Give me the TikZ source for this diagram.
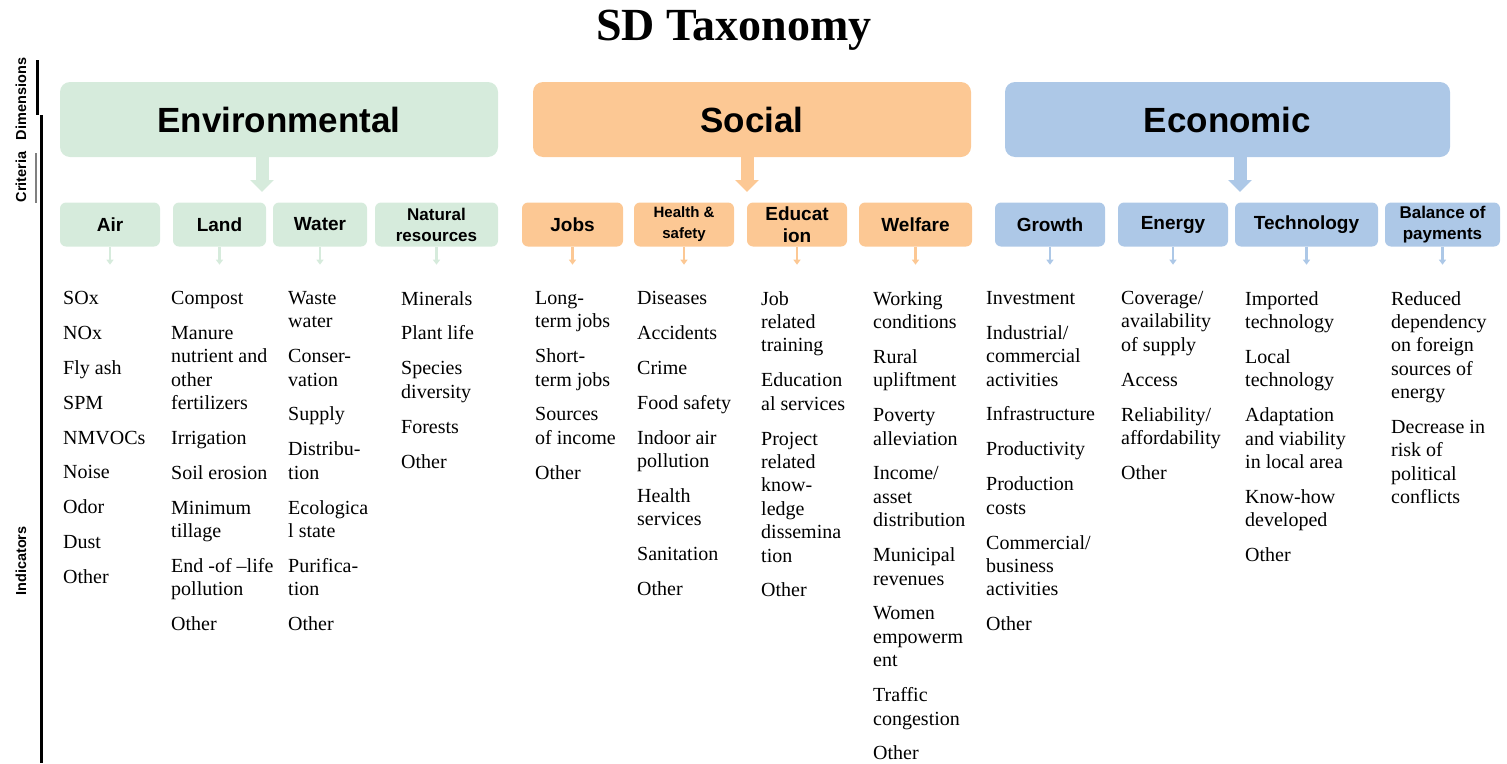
\documentclass[tikz,border=0pt]{standalone}
\usepackage{fontspec}
\setmainfont{Liberation Serif}
\setsansfont{Liberation Sans}
\usetikzlibrary{arrows.meta}

\definecolor{envgreen}{HTML}{D6EBDC}
\definecolor{socorange}{HTML}{FCC894}
\definecolor{ecoblue}{HTML}{ADC8E7}

% gap between two indicators
\newcommand{\nx}{\\[11.5pt]}

\begin{document}
\begin{tikzpicture}[x=1pt, y=-1pt,
  dimbox/.style={rounded corners=10pt, minimum height=75pt, inner sep=0pt,
    font=\sffamily\bfseries\fontsize{35}{40}\selectfont},
  critbox/.style={rounded corners=6pt, minimum height=44pt, inner sep=0pt, align=center,
    font=\sffamily\bfseries\fontsize{19}{22}\selectfont},
  ind/.style={anchor=north west, inner sep=0pt, align=left,
    font=\fontsize{20}{23.4}\selectfont},
  axislab/.style={rotate=90, font=\sffamily\bfseries\fontsize{14.5}{16}\selectfont},
  bigarrow/.style={-{Triangle[width=23pt,length=12pt]}, line width=13pt},
  smallarrow/.style={-{Triangle[width=7pt,length=5pt]}, line width=2.5pt},
]
\useasboundingbox (0,0) rectangle (1507,763);

\node[font=\bfseries\fontsize{46}{50}\selectfont] (title) at (734,30) {SD Taxonomy};

% left axis
\draw[line width=3pt] (37,60) -- (37,115);
\draw[line width=3pt] (41,115) -- (41,763);
\draw[line width=2pt, gray] (36,153) -- (36,203);
\node[axislab] (dimlab) at (21,99) {Dimensions};
\node[axislab] (critlab) at (21,177) {Criteria};
\node[axislab] (indlab) at (21,561) {Indicators};

% dimensions
\node[dimbox, fill=envgreen, minimum width=438pt] (env) at (279,119.5) {Environmental};
\node[dimbox, fill=socorange, minimum width=438pt] (soc) at (752,119.5) {Social};
\node[dimbox, fill=ecoblue, minimum width=445pt] (eco) at (1227.5,119.5) {Economic};

\coordinate (envtip) at (262,192);
\coordinate (soctip) at (747,192);
\coordinate (ecotip) at (1240,192);
\draw[bigarrow, envgreen] (env.south -| envtip) -- (envtip);
\draw[bigarrow, socorange] (soc.south -| soctip) -- (soctip);
\draw[bigarrow, ecoblue] (eco.south -| ecotip) -- (ecotip);

% criteria
\node[critbox, fill=envgreen, minimum width=100pt] (air) at (110,224.5) {Air};
\node[critbox, fill=envgreen, minimum width=93pt] (land) at (219.5,224.5) {Land};
\node[critbox, fill=envgreen, minimum width=94pt] (water) at (320,224.5) {Water};
\node[critbox, fill=envgreen, minimum width=123pt, font=\sffamily\bfseries\fontsize{17}{21}\selectfont] (natres) at (436.5,224.5) {Natural\\resources};

\node[critbox, fill=socorange, minimum width=101pt] (jobs) at (572.5,224.5) {Jobs};
\node[critbox, fill=socorange, minimum width=100pt, font=\sffamily\bfseries\fontsize{15}{21}\selectfont] (health) at (684,224.5) {Health \&\\safety};
\node[critbox, fill=socorange, minimum width=100pt] (educ) at (797,224.5) {Educat\\ion};
\node[critbox, fill=socorange, minimum width=113pt] (welfare) at (915.5,224.5) {Welfare};

\node[critbox, fill=ecoblue, minimum width=110pt] (growth) at (1050,224.5) {Growth};
\node[critbox, fill=ecoblue, minimum width=110pt] (energy) at (1173,224.5) {Energy};
\node[critbox, fill=ecoblue, minimum width=143pt] (tech) at (1306.5,224.5) {Technology};
\node[critbox, fill=ecoblue, minimum width=115pt, font=\sffamily\bfseries\fontsize{17}{21}\selectfont] (bop) at (1442.5,224.5) {Balance of\\payments};

\foreach \c in {air,land,water,natres}
  \draw[smallarrow, envgreen] (\c.south) -- ++(0,18);
\foreach \c in {jobs,health,educ,welfare}
  \draw[smallarrow, socorange] (\c.south) -- ++(0,18);
\foreach \c in {growth,energy,tech,bop}
  \draw[smallarrow, ecoblue] (\c.south) -- ++(0,18);

% indicators
\node[ind] (airind) at (63,291) {SOx\nx NOx\nx Fly ash\nx SPM\nx NMVOCs\nx Noise\nx Odor\nx Dust\nx Other};
\node[ind] (landind) at (171,291) {Compost\nx Manure\\nutrient and\\other\\fertilizers\nx Irrigation\nx Soil erosion\nx Minimum\\tillage\nx End -of --life\\pollution\nx Other};
\node[ind] (waterind) at (288,291) {Waste\\water\nx Conser-\\vation\nx Supply\nx Distribu-\\tion\nx Ecologica\\l state\nx Purifica-\\tion\nx Other};
\node[ind] (natind) at (401,291) {Minerals\nx Plant life\nx Species\\diversity\nx Forests\nx Other};

\node[ind] (jobsind) at (535,291) {Long-\\term jobs\nx Short-\\term jobs\nx Sources\\of income\nx Other};
\node[ind] (healthind) at (637,291) {Diseases\nx Accidents\nx Crime\nx Food safety\nx Indoor air\\pollution\nx Health\\services\nx Sanitation\nx Other};
\node[ind] (educind) at (761,291) {Job\\related\\training\nx Education\\al services\nx Project\\related\\know-\\ledge\\dissemina\\tion\nx Other};
\node[ind] (welfind) at (873,291) {Working\\conditions\nx Rural\\upliftment\nx Poverty\\alleviation\nx Income/\\asset\\distribution\nx Municipal\\revenues\nx Women\\empowerm\\ent\nx Traffic\\congestion\nx Other};

\node[ind] (growind) at (986,291) {Investment\nx Industrial/\\commercial\\activities\nx Infrastructure\nx Productivity\nx Production\\costs\nx Commercial/\\business\\activities\nx Other};
\node[ind] (energind) at (1121,291) {Coverage/\\availability\\of supply\nx Access\nx Reliability/\\affordability\nx Other};
\node[ind] (techind) at (1245,291) {Imported\\technology\nx Local\\technology\nx Adaptation\\and viability\\in local area\nx Know-how\\developed\nx Other};
\node[ind] (bopind) at (1391,291) {Reduced\\dependency\\on foreign\\sources of\\energy\nx Decrease in\\risk of\\political\\conflicts};
\end{tikzpicture}
\end{document}
